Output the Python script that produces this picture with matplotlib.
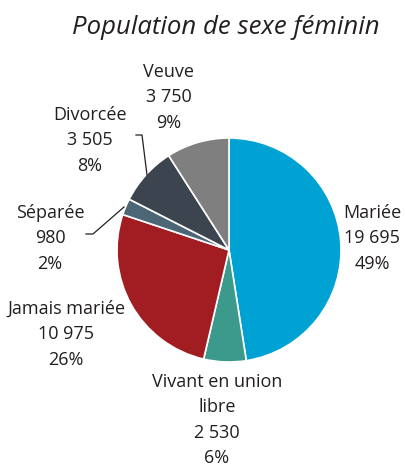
import matplotlib
matplotlib.use("Agg")
import matplotlib.pyplot as plt

# data
categories = ["Mariée", "Vivant en union\nlibre", "Jamais mariée", "Séparée", "Divorcée", "Veuve"]
values = [19695, 2530, 10975, 980, 3505, 3750]
value_labels = ["19 695", "2 530", "10 975", "980", "3 505", "3 750"]
pct_labels = ["49%", "6%", "26%", "2%", "8%", "9%"]
colors = ["#00a2d4", "#3b9a8b", "#a21d22", "#4c6676", "#3c4450", "#7f7f7f"]

W, H = 406, 470
plt.rcParams['font.family'] = ['Open Sans', 'DejaVu Sans']
fig = plt.figure(figsize=(W / 100, H / 100), dpi=100)
ax = fig.add_axes([0, 0, 1, 1])

def Y(py):
    # pixel row (from top) to data y
    return H - py

ax.pie(values, colors=colors, startangle=90, counterclock=False,
       center=(229, Y(250)), radius=112, frame=True,
       wedgeprops=dict(edgecolor='white', linewidth=1.2))
ax.set_xlim(0, W)
ax.set_ylim(0, H)
ax.axis('off')

txt = "#231f20"
ax.text(226, Y(27), "Population de sexe féminin", ha='center', va='center',
        fontsize=18.5, style='italic', color=txt)

# label positions (center x, top of first line)
label_pos = [(372, 204), (217, 373), (66, 300), (50, 204), (90, 106), (169, 63)]
for cat, v, p, (lx, ly) in zip(categories, value_labels, pct_labels, label_pos):
    s = cat + "\n" + v + "\n" + p
    ax.text(lx, Y(ly), s, ha='center', va='top', fontsize=13, color=txt,
            linespacing=1.52)

# leader lines
ax.plot([136, 142, 147], [Y(135), Y(135), Y(175)], color=txt, lw=0.9)
ax.plot([86, 93, 124], [Y(234), Y(234), Y(207)], color=txt, lw=0.9)

fig.savefig("out.png", dpi=100)
